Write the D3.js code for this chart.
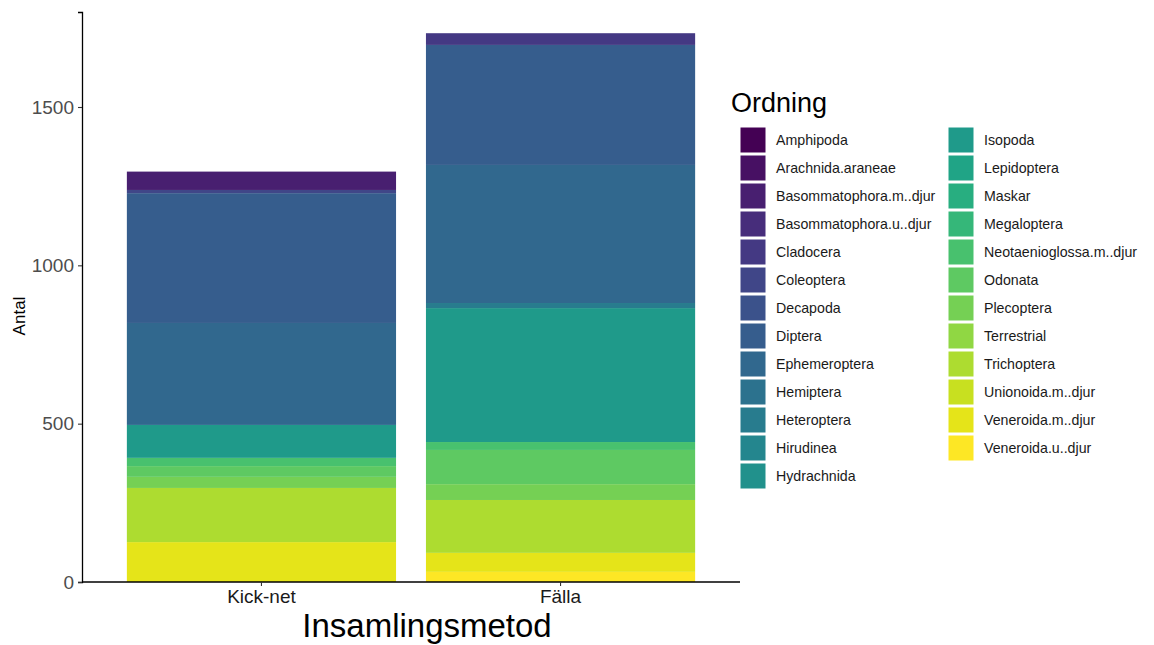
<!DOCTYPE html>
<html>
<head>
<meta charset="utf-8">
<script src="https://cdn.jsdelivr.net/npm/d3@7/dist/d3.min.js"></script>
<style>
  html, body { margin: 0; padding: 0; background: #fff; }
  svg { display: block; font-family: "Liberation Sans", Arial, sans-serif; }
</style>
</head>
<body>
<svg id="chart" width="1154" height="645"></svg>
<script>
// ---- data ----
const orders = [
  "Amphipoda", "Arachnida.araneae", "Basommatophora.m..djur", "Basommatophora.u..djur",
  "Cladocera", "Coleoptera", "Decapoda", "Diptera", "Ephemeroptera", "Hemiptera",
  "Heteroptera", "Hirudinea", "Hydrachnida", "Isopoda", "Lepidoptera", "Maskar",
  "Megaloptera", "Neotaenioglossa.m..djur", "Odonata", "Plecoptera", "Terrestrial",
  "Trichoptera", "Unionoida.m..djur", "Veneroida.m..djur", "Veneroida.u..djur"
];
const methods = ["Kick-net", "Fälla"];
// counts per order, in the order of `orders`
const kicknetValues = [0, 0, 58, 0, 0, 10, 0, 410, 322, 0, 0, 0, 0, 104, 0, 0, 0, 26, 34, 35, 0, 171, 0, 126, 0];
const fallaValues   = [0, 0, 0, 0, 37, 0, 0, 379, 436, 0, 16, 0, 0, 423, 0, 0, 0, 25, 108, 50, 0, 167, 0, 60, 32];
const yTicks = [0, 500, 1000, 1500];

// ---- build table ----
const table = methods.map((m, mi) => {
  const row = { method: m };
  const vals = mi === 0 ? kicknetValues : fallaValues;
  orders.forEach((o, i) => row[o] = vals[i]);
  return row;
});

const svg = d3.select("#chart");
const color = d3.scaleOrdinal().domain(orders)
  .range(orders.map((d, i) => d3.interpolateViridis(i / (orders.length - 1))));

const x = d3.scaleBand().domain(methods).range([82, 740]).paddingInner(0.1).paddingOuter(0.15);
const y = d3.scaleLinear().domain([0, 1800]).range([582, 12]);

// stack: first factor level on top (ggplot style)
const stack = d3.stack().keys(orders.slice().reverse());
const series = stack(table);

svg.append("g").selectAll("g").data(series).join("g")
  .attr("fill", d => color(d.key))
  .selectAll("rect").data(d => d).join("rect")
  .attr("x", d => x(d.data.method))
  .attr("width", x.bandwidth())
  .attr("y", d => y(d[1]))
  .attr("height", d => y(d[0]) - y(d[1]));

// axes
const yAxis = svg.append("g").attr("transform", "translate(82,0)")
  .call(d3.axisLeft(y).tickValues(yTicks).tickSize(4).tickPadding(4).tickFormat(d3.format("d")));
yAxis.select(".domain").attr("stroke", "#000").attr("stroke-width", 1.3);
yAxis.selectAll(".tick line").attr("stroke", "#333").attr("stroke-width", 1.1);
yAxis.selectAll(".tick text").attr("fill", "#4d4d4d").style("font-size", "19px");

const xAxis = svg.append("g").attr("transform", "translate(0,582)")
  .call(d3.axisBottom(x).tickSize(4).tickPadding(4));
xAxis.select(".domain").attr("stroke", "#000").attr("stroke-width", 1.3).attr("d", "M82,0H740");
xAxis.selectAll(".tick line").attr("stroke", "#333").attr("stroke-width", 1.1);
xAxis.selectAll(".tick text").attr("fill", "#1a1a1a").style("font-size", "19px");

// axis titles
svg.append("text").attr("transform", "translate(25,316) rotate(-90)")
  .attr("text-anchor", "middle").style("font-size", "17px").attr("fill", "#000").text("Antal");
svg.append("text").attr("x", 427).attr("y", 637)
  .attr("text-anchor", "middle").style("font-size", "33px").attr("fill", "#000").text("Insamlingsmetod");

// legend
const lg = svg.append("g");
lg.append("text").attr("x", 731).attr("y", 112).style("font-size", "27px").attr("fill", "#000").text("Ordning");
const perCol = 13;
orders.forEach((o, i) => {
  const col = Math.floor(i / perCol), r = i % perCol;
  const gx = 740 + col * 208, gy = 127 + r * 28;
  lg.append("rect").attr("x", gx).attr("y", gy).attr("width", 26).attr("height", 26)
    .attr("fill", color(o)).attr("stroke", "#fff").attr("stroke-width", 1);
  lg.append("text").attr("x", gx + 36).attr("y", gy + 18).style("font-size", "14.2px")
    .attr("fill", "#1a1a1a").text(o);
});
</script>
</body>
</html>
